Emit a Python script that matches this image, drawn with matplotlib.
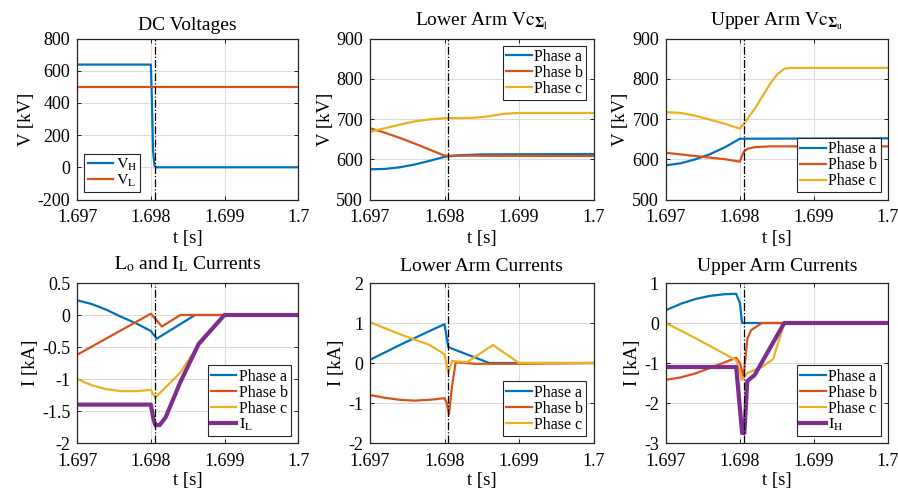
import matplotlib.pyplot as plt

plt.rcParams['font.family'] = ['Liberation Serif', 'DejaVu Serif']
plt.rcParams['mathtext.fontset'] = 'stix'

# MATLAB default colours
c_a, c_b, c_c, c_p = '#0072BD', '#D95319', '#EDB120', '#7E2F8E'

# fault instant (dash-dot marker)
t_fault = 1.69805

# ---- DC voltages ----
t_vh = [1.697, 1.69800, 1.698015, 1.69803, 1.69805, 1.69808, 1.7]
v_vh = [638, 638, 400, 100, 10, 0, 0]
t_vl = [1.697, 1.7]
v_vl = [498, 498]

# ---- Lower arm capacitor voltages ----
t_la = [1.697, 1.6972, 1.6974, 1.6976, 1.6978, 1.698, 1.6982, 1.6985, 1.7]
v_la = [575, 576, 580, 587, 596, 606, 610, 612, 613]
t_lb = [1.697, 1.6972, 1.6974, 1.6976, 1.6978, 1.698, 1.7]
v_lb = [677, 666, 653, 639, 624, 609, 608]
t_lc = [1.697, 1.6972, 1.6974, 1.6976, 1.6978, 1.698, 1.6984, 1.6986, 1.6988, 1.699, 1.7]
v_lc = [668, 677, 686, 694, 699, 702, 703, 707, 713, 715, 715]

# ---- Upper arm capacitor voltages ----
t_ua = [1.697, 1.6972, 1.6974, 1.6976, 1.6978, 1.698, 1.7]
v_ua = [585, 590, 600, 613, 630, 651, 652]
t_ub = [1.697, 1.6974, 1.6978, 1.698, 1.69802, 1.69805, 1.6981, 1.6982, 1.6984, 1.7]
v_ub = [616, 608, 600, 594, 604, 618, 626, 630, 632, 632]
t_uc = [1.697, 1.6972, 1.6974, 1.6976, 1.6978, 1.698, 1.6981, 1.6982, 1.6983,
        1.6984, 1.6985, 1.6986, 1.6987, 1.7]
v_uc = [717, 715, 708, 698, 688, 676, 700, 725, 755, 785, 810, 825, 827, 827]

# ---- Lo and IL currents ----
t_ia = [1.697, 1.6972, 1.6974, 1.6976, 1.6978, 1.698, 1.69808, 1.6986, 1.7]
i_ia = [0.23, 0.17, 0.08, -0.03, -0.13, -0.25, -0.37, 0.0, 0.0]
t_ib = [1.697, 1.698, 1.69815, 1.6984, 1.7]
i_ib = [-0.62, 0.02, -0.18, 0.0, 0.0]
t_ic = [1.697, 1.6972, 1.6974, 1.6976, 1.6978, 1.698, 1.69806, 1.6984, 1.6986, 1.699, 1.7]
i_ic = [-1.0, -1.1, -1.16, -1.19, -1.19, -1.17, -1.29, -0.9, -0.55, 0.0, 0.0]
t_il = [1.697, 1.698, 1.69803, 1.69806, 1.69812, 1.6982, 1.6984, 1.69865, 1.699, 1.7]
i_il = [-1.4, -1.4, -1.6, -1.72, -1.72, -1.6, -1.05, -0.45, 0.0, 0.0]

# ---- Lower arm currents ----
t_lia = [1.697, 1.6974, 1.6978, 1.698, 1.69805, 1.6981, 1.6986, 1.7]
i_lia = [0.08, 0.45, 0.8, 0.97, 0.4, 0.36, 0.0, 0.0]
t_lib = [1.697, 1.6972, 1.6974, 1.6976, 1.6978, 1.698, 1.69803, 1.69806, 1.6981,
         1.69815, 1.6984, 1.699, 1.7]
i_lib = [-0.8, -0.87, -0.92, -0.94, -0.92, -0.88, -1.0, -1.28, -0.6, 0.02, -0.02, -0.02, 0.0]
t_lic = [1.697, 1.6974, 1.6978, 1.698, 1.69805, 1.6981, 1.6983, 1.69865, 1.699, 1.7]
i_lic = [1.02, 0.72, 0.45, 0.22, -0.25, 0.05, 0.02, 0.45, 0.0, 0.0]

# ---- Upper arm currents ----
t_uia = [1.697, 1.6972, 1.6974, 1.6976, 1.6978, 1.69795, 1.698, 1.69803, 1.7]
i_uia = [0.32, 0.48, 0.6, 0.68, 0.72, 0.73, 0.5, 0.0, 0.0]
t_uib = [1.697, 1.6972, 1.6974, 1.6976, 1.6978, 1.69795, 1.698, 1.69805, 1.6981,
         1.69815, 1.6983, 1.7]
i_uib = [-1.42, -1.36, -1.26, -1.12, -0.98, -0.87, -1.0, -1.35, -0.4, -0.18, 0.0, 0.0]
t_uic = [1.697, 1.6974, 1.6978, 1.69795, 1.69803, 1.6981, 1.6983, 1.69845, 1.6986, 1.7]
i_uic = [0.0, -0.38, -0.78, -0.93, -1.42, -1.25, -1.1, -0.9, 0.0, 0.0]
t_ih = [1.697, 1.69795, 1.69803, 1.69806, 1.6981, 1.6982, 1.6986, 1.7]
i_ih = [-1.1, -1.1, -2.75, -2.75, -1.45, -1.3, 0.0, 0.0]

xticks = [1.697, 1.698, 1.699, 1.7]
xticklabels = ['1.697', '1.698', '1.699', '1.7']
phases = ['Phase a', 'Phase b', 'Phase c']

fig = plt.figure(figsize=(8.98, 5.0), dpi=100)
lefts = [0.086, 0.412, 0.7416]
widths = [0.246, 0.249, 0.247]
bottoms = [0.601, 0.114]
heights = [0.322, 0.320]

axes = []
for r in range(2):
    for c in range(3):
        axes.append(fig.add_axes([lefts[c], bottoms[r], widths[c], heights[r]]))

lw = 1.6
lw_thick = 3.0


def style(ax, ylim, yticks, ylabel, title, tpad, xpad, xlpad):
    ax.set_xlim(1.697, 1.7)
    ax.set_ylim(*ylim)
    ax.set_xticks(xticks)
    ax.set_xticklabels(xticklabels)
    ax.set_yticks(yticks)
    ax.set_yticklabels([('%g' % v) for v in yticks])
    ax.grid(True, color='#dcdcdc', linewidth=0.8)
    ax.set_axisbelow(True)
    ax.axvline(t_fault, color='black', linestyle='-.', linewidth=0.9)
    ax.tick_params(direction='in', length=3, width=0.6, labelsize=13,
                   top=True, right=True)
    ax.tick_params(axis='x', pad=xpad)
    ax.tick_params(axis='y', pad=5)
    for s in ax.spines.values():
        s.set_linewidth(0.9)
        s.set_color('#262626')
    ax.set_xlabel('t [s]', fontsize=13.5, labelpad=xlpad)
    ax.set_ylabel(ylabel, fontsize=13.5, labelpad=2)
    ax.set_title(title, fontsize=14, pad=tpad)


def legend(ax, loc, labels):
    lg = ax.legend(labels=labels, loc=loc, fontsize=11.5, frameon=True, fancybox=False,
                   framealpha=1, edgecolor='#262626', borderpad=0.2, labelspacing=0.0,
                   handlelength=1.6, handletextpad=0.15, borderaxespad=0.45)
    lg.get_frame().set_linewidth(0.8)


ax = axes[0]
ax.plot(t_vh, v_vh, color=c_a, lw=lw)
ax.plot(t_vl, v_vl, color=c_b, lw=lw)
style(ax, (-200, 800), [-200, 0, 200, 400, 600, 800], 'V [kV]', 'DC Voltages', 6, 7, 3)
legend(ax, 'lower left', [r'$\mathrm{V_H}$', r'$\mathrm{V_L}$'])

ax = axes[1]
ax.plot(t_la, v_la, color=c_a, lw=lw)
ax.plot(t_lb, v_lb, color=c_b, lw=lw)
ax.plot(t_lc, v_lc, color=c_c, lw=lw)
style(ax, (500, 900), [500, 600, 700, 800, 900], 'V [kV]',
      r'Lower Arm $\mathrm{Vc}_{\mathbf{\Sigma}_{\mathrm{l}}}$', 9.5, 7, 3)
legend(ax, 'upper right', phases)

ax = axes[2]
ax.plot(t_ua, v_ua, color=c_a, lw=lw)
ax.plot(t_ub, v_ub, color=c_b, lw=lw)
ax.plot(t_uc, v_uc, color=c_c, lw=lw)
style(ax, (500, 900), [500, 600, 700, 800, 900], 'V [kV]',
      r'Upper Arm $\mathrm{Vc}_{\mathbf{\Sigma}_{\mathrm{u}}}$', 9.5, 7, 3)
legend(ax, 'lower right', phases)

ax = axes[3]
ax.plot(t_ia, i_ia, color=c_a, lw=lw)
ax.plot(t_ib, i_ib, color=c_b, lw=lw)
ax.plot(t_ic, i_ic, color=c_c, lw=lw)
ax.plot(t_il, i_il, color=c_p, lw=lw_thick)
style(ax, (-2, 0.5), [-2, -1.5, -1, -0.5, 0, 0.5], 'I [kA]',
      r'$\mathrm{L_o}$ and $\mathrm{I_L}$ Currents', 10, 7, 2)
legend(ax, 'lower right', phases + [r'$\mathrm{I_L}$'])

ax = axes[4]
ax.plot(t_lia, i_lia, color=c_a, lw=lw)
ax.plot(t_lib, i_lib, color=c_b, lw=lw)
ax.plot(t_lic, i_lic, color=c_c, lw=lw)
style(ax, (-2, 2), [-2, -1, 0, 1, 2], 'I [kA]', 'Lower Arm Currents', 8.5, 7, 2)
legend(ax, 'lower right', phases)

ax = axes[5]
ax.plot(t_uia, i_uia, color=c_a, lw=lw)
ax.plot(t_uib, i_uib, color=c_b, lw=lw)
ax.plot(t_uic, i_uic, color=c_c, lw=lw)
ax.plot(t_ih, i_ih, color=c_p, lw=lw_thick)
style(ax, (-3, 1), [-3, -2, -1, 0, 1], 'I [kA]', 'Upper Arm Currents', 8.5, 7, 2)
legend(ax, 'lower right', phases + [r'$\mathrm{I_H}$'])

fig.savefig('out.png', dpi=100)
